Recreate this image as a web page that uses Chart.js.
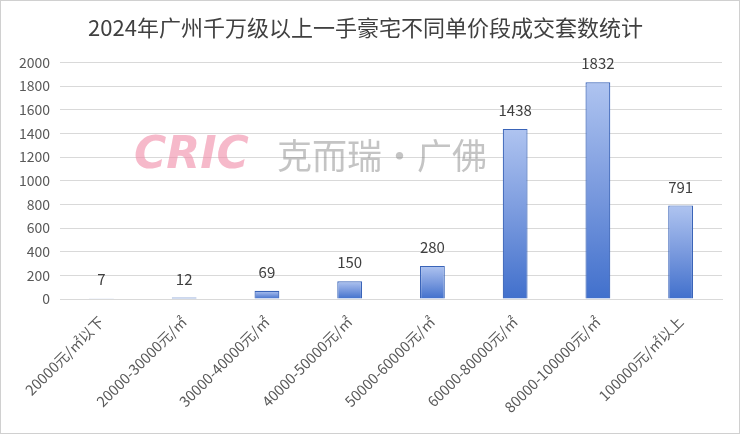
<!DOCTYPE html>
<html><head><meta charset="utf-8">
<script src="https://cdn.jsdelivr.net/npm/chart.js@4"></script>
<style>
html,body{margin:0;padding:0;background:#fff;}
#wrap{position:absolute;left:0;top:0;width:738px;height:432px;border:1px solid #d0d0d0;background:#fff;}
</style></head>
<body>
<div id="wrap"><canvas id="c" width="738" height="432"></canvas></div>
<script>
const title = "2024年广州千万级以上一手豪宅不同单价段成交套数统计";
const categories = ["20000元/㎡以下","20000-30000元/㎡","30000-40000元/㎡","40000-50000元/㎡","50000-60000元/㎡","60000-80000元/㎡","80000-100000元/㎡","100000元/㎡以上"];
const values = [7, 12, 69, 150, 280, 1438, 1832, 791];
const yTicks = [0,200,400,600,800,1000,1200,1400,1600,1800,2000];

const FONT = "'Noto Sans CJK SC','Microsoft YaHei',sans-serif";

const labelPlugin = {
  id: 'labels',
  afterDatasetsDraw(chart) {
    const ctx = chart.ctx;
    const meta = chart.getDatasetMeta(0);
    ctx.save();
    ctx.font = "15px " + FONT;
    ctx.fillStyle = "#404040";
    ctx.textAlign = "center";
    ctx.textBaseline = "bottom";
    meta.data.forEach((el, i) => {
      ctx.fillText(String(values[i]), el.x, el.y - 11);
    });
    ctx.restore();
  }
};

const watermark = {
  id: 'watermark',
  afterDraw(chart) {
    const ctx = chart.ctx;
    ctx.save();
    ctx.globalAlpha = 0.6;
    ctx.font = "italic 900 44px 'DejaVu Sans', sans-serif";
    ctx.fillStyle = "#f08aa6";
    ctx.textBaseline = "middle";
    ctx.textAlign = "left";
    ctx.fillText("CRIC", 133, 156, 136);
    ctx.globalAlpha = 0.5;
    ctx.font = "35px " + FONT;
    ctx.fillStyle = "#8a8a8a";
    ctx.fillText("克而瑞·广佛", 276, 155, 220);
    ctx.restore();
  }
};

new Chart(document.getElementById('c'), {
  type: 'bar',
  data: {
    labels: categories,
    datasets: [{
      data: values,
      backgroundColor(ctx) {
        const chart = ctx.chart;
        const ys = chart.scales.y;
        if (!ys || ctx.type !== 'data') return '#4472c4';
        const top = ys.getPixelForValue(ctx.parsed.y);
        const bot = ys.getPixelForValue(0);
        if (!isFinite(top) || bot - top < 4) return '#4a76c8';
        const g = chart.ctx.createLinearGradient(0, top, 0, bot);
        g.addColorStop(0, '#afc4f0');
        g.addColorStop(0.5, '#7a9ade');
        g.addColorStop(1, '#4170cc');
        return g;
      },
      borderColor: '#3a64b8',
      borderWidth: 1.2,
      barPercentage: 0.30,
      categoryPercentage: 1.0
    }]
  },
  options: {
    responsive: false,
    animation: false,
    layout: { padding: { left: 8, right: 17, top: 8, bottom: 0 } },
    plugins: {
      legend: { display: false },
      tooltip: { enabled: false },
      title: {
        display: true,
        text: title,
        color: '#404040',
        font: { family: FONT, size: 22, weight: 'normal' },
        padding: { top: 5, bottom: 22 }
      }
    },
    scales: {
      x: {
        grid: { display: false, drawTicks: false },
        border: { color: '#d9d9d9', width: 1 },
        ticks: {
          color: '#595959',
          font: { family: FONT, size: 14.5 },
          maxRotation: 45, minRotation: 45,
          padding: 14
        },
        afterFit(axis) { axis.height = 134; }
      },
      y: {
        min: 0, max: 2000,
        afterBuildTicks(axis) { axis.ticks = yTicks.map(v => ({ value: v })); },
        grid: { color: '#d9d9d9', drawTicks: false },
        border: { display: false },
        ticks: {
          color: '#595959',
          font: { family: FONT, size: 14 },
          padding: 10,
          callback: v => String(v)
        }
      }
    }
  },
  plugins: [labelPlugin, watermark]
});
</script>
</body></html>
